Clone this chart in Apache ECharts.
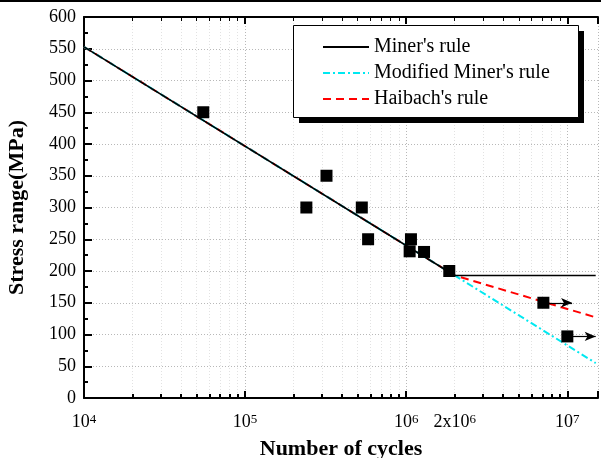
<!DOCTYPE html>
<html>
<head>
<meta charset="utf-8">
<script src="https://cdn.jsdelivr.net/npm/echarts@6/dist/echarts.min.js"></script>
<style>
html,body{margin:0;padding:0;background:#fff;}
#chart{width:601px;height:458px;}
</style>
</head>
<body>
<div id="chart"></div>
<script>
// ---- data ----
const xMin = 1e4;
const xMax = 1.55e7;
const testCycles = [5.5e4, 2.4e5, 3.2e5, 5.3e5, 5.8e5, 1.07e6, 1.05e6, 1.29e6, 1.85e6, 7.1e6, 1.0e7];
const testStress = [450, 300, 350, 300, 250, 250, 231, 230, 200, 150, 97];
const runoutCycles = [7.1e6, 1.0e7];
const runoutStress = [150, 97];
const runoutArrowEnd = [1.07e7, 1.5e7];
const minerCycles = [1e4, 2e6, 1.5e7];
const minerStress = [553, 193, 193];
const modMinerCycles = [1e4, 2e6, 1.5e7];
const modMinerStress = [553, 193, 55];
const haibachCycles = [1e4, 2e6, 1.5e7];
const haibachStress = [553, 193, 127];
const xLabelValues = [1e4, 1e5, 1e6, 2e6, 1e7];
const decades = [1e4, 1e5, 1e6, 1e7];
const minorMultipliers = [2, 3, 4, 5, 6, 7, 8, 9];
const yTicks = {min: 0, max: 600, interval: 50};

const minorValues = [];
decades.forEach(d => minorMultipliers.forEach(m => { if (d * m <= xMax) minorValues.push(d * m); }));

const zip = (a, b) => a.map((v, i) => [v, b[i]]);
const FONT = 'Liberation Serif';

function fmtPow(v) {
  const e = Math.floor(Math.log10(v) + 1e-9);
  const m = Math.round(v / Math.pow(10, e));
  if (Math.abs(v - m * Math.pow(10, e)) / v > 1e-6) return '';
  return (m === 1 ? '' : m + 'x') + '10{sup|' + e + '}';
}

const chart = echarts.init(document.getElementById('chart'), null, {renderer: 'canvas'});

const gridLine = {show: true, lineStyle: {color: '#b8b8b8', type: [1, 2], width: 1}};
const minorGridLine = {show: true, lineStyle: {color: '#e2e2e2', type: [1, 2], width: 1}};

const baseX = {type: 'log', logBase: 10, min: xMin, max: xMax, gridIndex: 0};

// legend frame (box + drop shadow)
const legendBox = {x: 293, y: 25, w: 285, h: 92, shadow: 6};

chart.setOption({
  animation: false,
  backgroundColor: '#fff',
  textStyle: {fontFamily: FONT},
  graphic: [
    {type: 'line', z: 10, shape: {x1: 0, y1: 1, x2: 601, y2: 1}, style: {stroke: '#000', lineWidth: 2}},
    {type: 'rect', z: 3, shape: {x: legendBox.x + legendBox.shadow, y: legendBox.y + legendBox.shadow, width: legendBox.w, height: legendBox.h}, style: {fill: '#000'}},
    {type: 'rect', z: 3, shape: {x: legendBox.x + 0.5, y: legendBox.y + 0.5, width: legendBox.w, height: legendBox.h}, style: {fill: '#fff', stroke: '#000', lineWidth: 1}}
  ],
  grid: {left: 84, right: 3, top: 17, bottom: 60, containLabel: false, outerBoundsMode: 'none'},
  legend: {
    orient: 'vertical', left: 293, top: 25, z: 5,
    data: ["Miner's rule", "Modified Miner's rule", "Haibach's rule"],
    itemWidth: 46, itemHeight: 14, itemGap: 6,
    padding: [12, 0, 0, 29],
    itemStyle: {opacity: 0},
    textStyle: {fontFamily: FONT, fontSize: 20, color: '#000', lineHeight: 20}
  },
  xAxis: [
    Object.assign({}, baseX, {
      position: 'bottom',
      name: 'Number of cycles', nameLocation: 'middle', nameGap: 40,
      nameTextStyle: {fontFamily: FONT, fontSize: 22, fontWeight: 'bold', color: '#000'},
      axisLine: {show: true, lineStyle: {color: '#000', width: 2}},
      axisTick: {show: true, inside: true, length: 7, lineStyle: {color: '#000', width: 2}},
      axisLabel: {show: true, customValues: xLabelValues, formatter: fmtPow, color: '#000', fontFamily: FONT, fontSize: 18, margin: 15,
        rich: {sup: {fontSize: 13, verticalAlign: 'top', lineHeight: 10, fontFamily: FONT, color: '#000'}}},
      splitLine: gridLine
    }),
    Object.assign({}, baseX, {
      position: 'bottom',
      axisLine: {show: false},
      axisTick: {show: true, inside: true, length: 4, customValues: minorValues, lineStyle: {color: '#000', width: 2}},
      axisLabel: {show: false},
      splitLine: minorGridLine
    }),
    Object.assign({}, baseX, {
      position: 'top',
      axisLine: {show: true, lineStyle: {color: '#000', width: 2}},
      axisTick: {show: true, inside: true, length: 7, lineStyle: {color: '#000', width: 2}},
      axisLabel: {show: false},
      splitLine: {show: false}
    }),
    Object.assign({}, baseX, {
      position: 'top',
      axisLine: {show: false},
      axisTick: {show: true, inside: true, length: 4, customValues: minorValues, lineStyle: {color: '#000', width: 1}},
      axisLabel: {show: false},
      splitLine: {show: false}
    })
  ],
  yAxis: [{
    type: 'value', min: yTicks.min, max: yTicks.max, interval: yTicks.interval,
    name: 'Stress range(MPa)', nameLocation: 'middle', nameGap: 56,
    nameTextStyle: {fontFamily: FONT, fontSize: 22, fontWeight: 'bold', color: '#000'},
    axisLine: {show: true, lineStyle: {color: '#000', width: 2}},
    axisTick: {show: true, inside: true, length: 8, lineStyle: {color: '#000', width: 2}},
    minorTick: {show: true, splitNumber: 2, length: 4, lineStyle: {color: '#000', width: 2}},
    axisLabel: {color: '#000', fontFamily: FONT, fontSize: 18, margin: 8},
    splitLine: gridLine
  }],
  series: [
    {name: "Haibach's rule", type: 'line', xAxisIndex: 0, data: zip(haibachCycles, haibachStress), symbol: 'none',
      lineStyle: {color: '#ff0000', width: 2, type: [8, 5]}, itemStyle: {color: '#ff0000'}, z: 2},
    {name: "Modified Miner's rule", type: 'line', xAxisIndex: 0, data: zip(modMinerCycles, modMinerStress), symbol: 'none',
      lineStyle: {color: '#00e8f0', width: 2, type: [7, 3, 2, 3]}, itemStyle: {color: '#00e8f0'}, z: 2},
    {name: "Miner's rule", type: 'line', xAxisIndex: 0, data: zip(minerCycles, minerStress), symbol: 'none',
      lineStyle: {color: '#000', width: 1.6}, itemStyle: {color: '#000'}, z: 2},
    {name: 'Test data', type: 'scatter', xAxisIndex: 0, data: zip(testCycles, testStress), symbol: 'rect', symbolSize: 12,
      itemStyle: {color: '#000', opacity: 1}, z: 2,
      markLine: {
        silent: true, symbol: ['none', 'arrow'], symbolSize: [7, 11],
        label: {show: false},
        lineStyle: {color: '#000', width: 1.2, type: 'solid', opacity: 1},
        data: runoutCycles.map((c, i) => [{coord: [c, runoutStress[i]]}, {coord: [runoutArrowEnd[i], runoutStress[i]]}])
      }}
  ]
});
</script>
</body>
</html>
